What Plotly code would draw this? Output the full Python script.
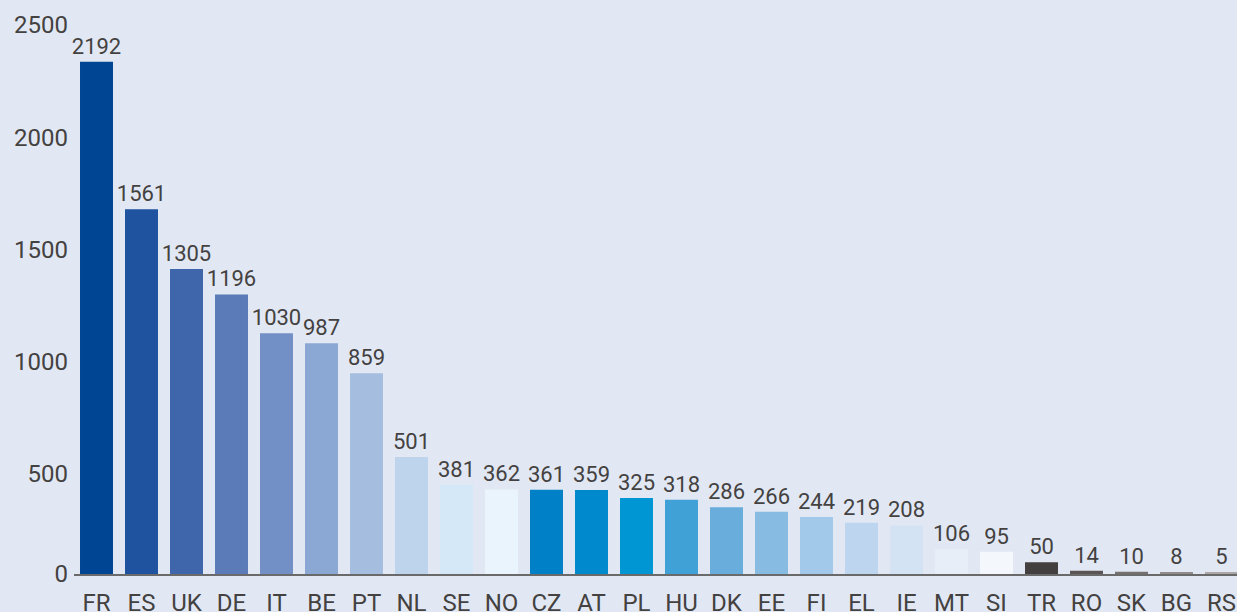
import plotly.graph_objects as go

countries = ["FR", "ES", "UK", "DE", "IT", "BE", "PT", "NL", "SE", "NO", "CZ", "AT", "PL",
             "HU", "DK", "EE", "FI", "EL", "IE", "MT", "SI", "TR", "RO", "SK", "BG", "RS"]
values = [2192, 1561, 1305, 1196, 1030, 987, 859, 501, 381, 362, 361, 359, 325,
          318, 286, 266, 244, 219, 208, 106, 95, 50, 14, 10, 8, 5]
bar_colors = ["#004494", "#1f53a0", "#3f66ab", "#5a7bb8", "#7290c5", "#8ba7d3", "#a5bedf",
              "#bdd4ec", "#d4e8f7", "#eaf4fc", "#0080c6", "#0089cc", "#0096d4", "#40a1d7",
              "#68addb", "#88bbe2", "#a3c9ea", "#bdd5ee", "#d3e3f4", "#e7eef8", "#f4f7fc",
              "#433f3f", "#5b5555", "#756f6f", "#908b8b", "#aba7a7"]
# y-axis tick labels and where they sit on the bar scale in the reference
ytick_text = ["0", "500", "1000", "1500", "2000", "2500"]
ytick_pos = [0, 430, 910, 1386, 1869, 2349]

BG = "#e1e8f3"
TXT = "#444141"
FONT = "Roboto"

fig = go.Figure(go.Bar(
    x=countries,
    y=values,
    marker=dict(color=bar_colors, line=dict(width=0)),
    text=[str(v) for v in values],
    textposition="outside",
    cliponaxis=False,
    textfont=dict(family=FONT, size=22, color=TXT),
    hoverinfo="x+y",
))

fig.update_layout(
    width=1237, height=612,
    margin=dict(l=74, r=0, t=0, b=38, autoexpand=False),
    paper_bgcolor=BG, plot_bgcolor=BG,
    bargap=0.267,
    showlegend=False,
    font=dict(family=FONT, color=TXT),
    uniformtext=dict(minsize=22, mode="show"),
)
fig.update_xaxes(
    range=[-0.5, -0.5 + 1163 / 45],
    showgrid=False, zeroline=False,
    showline=True, linecolor="#6a6a6a", linewidth=1.5,
    ticks="", ticklabelstandoff=6,
    tickfont=dict(family=FONT, size=24, color=TXT),
    automargin=False,
)
fig.update_yaxes(
    range=[0, 574 / 0.2337],
    showgrid=False, zeroline=False, showline=False,
    tickmode="array", tickvals=ytick_pos, ticktext=ytick_text,
    ticks="", ticklabelstandoff=5,
    tickfont=dict(family=FONT, size=24, color=TXT),
    automargin=False,
)

fig.write_html(
    "out.html",
    config={"displayModeBar": False},
    post_script="document.body.style.margin='0';document.body.style.overflow='hidden';",
)
